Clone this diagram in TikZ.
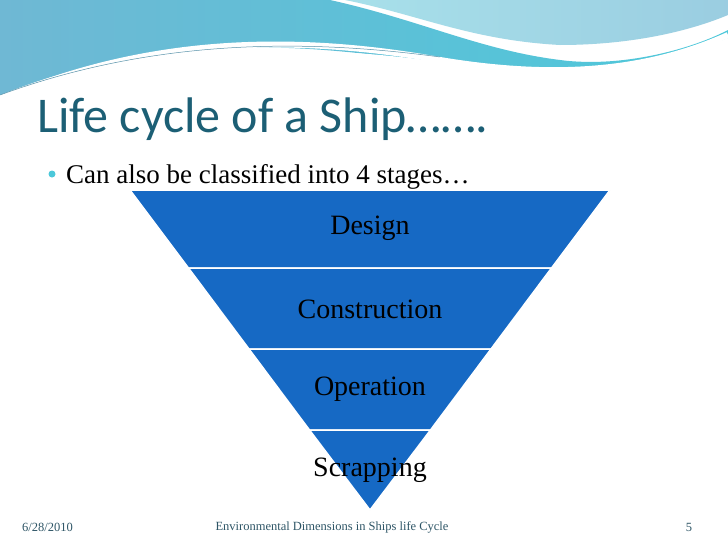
\documentclass[tikz,border=0pt]{standalone}
\usepackage{fontspec}
\setmainfont{Liberation Serif}
\newfontfamily\titlefont{Carlito}
\begin{document}
\begin{tikzpicture}[x=1pt,y=-1pt,
  band/.style={fill=tri,draw=white,line width=1.5pt},
  lbl/.style={font=\fontsize{28}{32}\selectfont, text=black},
  foot/.style={font=\fontsize{12.5}{14}\selectfont, text=foottext}]
\definecolor{tri}{HTML}{1669C4}
\definecolor{ttl}{HTML}{1C5F75}
\definecolor{foottext}{HTML}{2E5566}
\definecolor{wave1}{HTML}{6FB8D4}
\definecolor{wave2}{HTML}{A8E0EA}
\definecolor{wave3}{HTML}{4CC8DA}
\useasboundingbox (0,0) rectangle (728,546);
\fill[white] (0,0) rectangle (728,546);
% waves
\shade[left color=wave1,right color=wave3] (0,0) -- (330,0) .. controls (420,20) and (480,50) .. (560,60) .. controls (620,68) and (690,50) .. (728,30) -- (728,40) .. controls (650,75) and (560,80) .. (440,65) .. controls (300,40) and (150,35) .. (0,95) -- cycle;
\shade[left color=wave2,right color=wave1!70] (345,0) -- (728,0) -- (728,15) .. controls (680,35) and (620,45) .. (560,45) .. controls (470,40) and (420,15) .. (345,0) -- cycle;
\draw[white,line width=6pt] (0,100) .. controls (150,35) and (300,35) .. (440,60) .. controls (560,80) and (650,70) .. (728,35);
\draw[wave1!80!black,line width=0.5pt] (0,95) .. controls (150,40) and (300,38) .. (440,57);
\fill[white] (0,105) .. controls (150,45) and (300,42) .. (440,62) .. controls (560,80) and (650,70) .. (728,38) -- (728,80) -- (0,110) -- cycle;
% title
\node[anchor=base west,inner sep=0pt,font=\titlefont\fontsize{50}{56}\selectfont,text=ttl] (title) at (37,132) {Life cycle of a Ship…….};
\fill[wave3] (52,174) circle (3.5pt);
\node[anchor=base west,inner sep=0pt,font=\fontsize{27}{30}\selectfont] (sub) at (66,183) {Can also be classified into 4 stages…};
% pyramid
\path[band] (130,190) -- (610,190) -- (551.5,268) -- (188.5,268) -- cycle;
\path[band] (188.5,268) -- (551.5,268) -- (491,349) -- (249,349) -- cycle;
\path[band] (249,349) -- (491,349) -- (430.5,430) -- (309.5,430) -- cycle;
\path[band] (309.5,430) -- (430.5,430) -- (370,510) -- cycle;
\node[lbl] (d) at (370,228) {Design};
\node[lbl] (c) at (370,309) {Construction};
\node[lbl] (o) at (370,389) {Operation};
\node[lbl] (s) at (370,470) {Scrapping};
% footer
\node[foot,anchor=west,inner sep=0pt] (date) at (22,527) {6/28/2010};
\node[foot] (ft) at (332,527) {Environmental Dimensions in Ships life Cycle};
\node[foot] (pg) at (689,527) {5};
\end{tikzpicture}
\end{document}
